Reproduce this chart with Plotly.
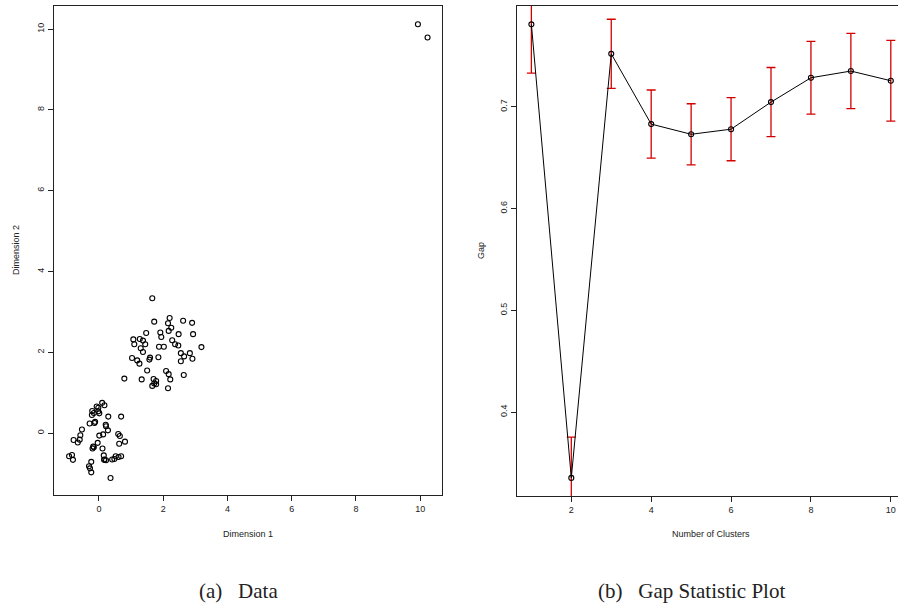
import plotly.graph_objects as go

# ---------------- data ----------------
# Panel (a): two clusters + two outliers
cluster1_x = [1.66, 1.72, 2.20, 2.15, 2.62, 2.90, 2.25, 2.17, 1.47, 1.91, 1.94, 2.48, 2.93,
              1.07, 1.27, 1.37, 1.10, 1.44, 2.28, 2.37, 2.47, 1.87, 2.02, 3.19, 1.30, 1.37,
              2.55, 2.83, 2.65, 2.91, 2.55, 1.03, 1.19, 1.26, 1.59, 1.57, 1.85, 1.50, 2.09,
              2.17, 2.64, 2.22, 0.79, 1.33, 1.70, 1.78, 1.72, 1.66, 1.78, 2.15]
cluster1_y = [3.34, 2.76, 2.85, 2.72, 2.78, 2.73, 2.61, 2.53, 2.48, 2.49, 2.38, 2.45, 2.45,
              2.32, 2.33, 2.29, 2.20, 2.20, 2.30, 2.20, 2.17, 2.14, 2.14, 2.13, 2.10, 2.01,
              1.98, 1.98, 1.90, 1.84, 1.78, 1.86, 1.80, 1.72, 1.87, 1.82, 1.88, 1.55, 1.54,
              1.46, 1.44, 1.33, 1.35, 1.33, 1.34, 1.29, 1.23, 1.17, 1.21, 1.11]

cluster2_x = [0.10, 0.17, -0.07, -0.21, -0.16, -0.02, 0.01, -0.22, 0.29, 0.69, -0.12, -0.29,
              0.21, 0.22, 0.28, -0.53, -0.58, -0.60, -0.66, -0.79, 0.01, 0.13, 0.60, 0.65,
              -0.04, 0.81, 0.63, -0.16, -0.20, 0.11, -0.93, -0.84, -0.81, 0.15, 0.16, 0.22,
              0.41, 0.48, 0.52, 0.61, 0.69, -0.24, -0.31, -0.28, -0.24, 0.36, -0.02, -0.18,
              0.17, -0.14]
cluster2_y = [0.75, 0.69, 0.66, 0.55, 0.50, 0.54, 0.49, 0.45, 0.41, 0.41, 0.28, 0.24,
              0.21, 0.17, 0.07, 0.09, -0.05, -0.16, -0.23, -0.17, -0.06, -0.03, -0.02, -0.07,
              -0.24, -0.21, -0.26, -0.35, -0.38, -0.38, -0.57, -0.54, -0.66, -0.55, -0.66, -0.67,
              -0.65, -0.64, -0.57, -0.59, -0.57, -0.71, -0.82, -0.87, -0.97, -1.11, 0.63, -0.33,
              -0.65, 0.25]

outlier_x = [9.93, 10.23]
outlier_y = [10.12, 9.79]

# Panel (b): gap statistic
clusters = [1, 2, 3, 4, 5, 6, 7, 8, 9, 10]
gap = [0.781, 0.3355, 0.752, 0.683, 0.673, 0.678, 0.7046, 0.7285, 0.7351, 0.7256]
gap_se = [0.048, 0.040, 0.034, 0.0335, 0.030, 0.031, 0.034, 0.0357, 0.037, 0.0397]

xticks_a = [0, 2, 4, 6, 8, 10]
yticks_a = [0, 2, 4, 6, 8, 10]
xticks_b = [2, 4, 6, 8, 10]
yticks_b = [0.4, 0.5, 0.6, 0.7]

# ---------------- figure ----------------
W, H = 898, 605
TICKFONT = dict(family="Liberation Sans, Arial, sans-serif", size=9, color="#222222")

pts_x = cluster1_x + cluster2_x + outlier_x
pts_y = cluster1_y + cluster2_y + outlier_y

fig = go.Figure()
fig.add_trace(go.Scatter(
    x=pts_x, y=pts_y, mode="markers", xaxis="x", yaxis="y",
    marker=dict(symbol="circle-open", size=5, color="black", line=dict(width=1.1)),
    showlegend=False, hoverinfo="x+y"))

fig.add_trace(go.Scatter(
    x=clusters, y=gap, mode="lines+markers", xaxis="x2", yaxis="y2",
    line=dict(color="black", width=1),
    marker=dict(symbol="circle-open", size=5, color="black", line=dict(width=1.1)),
    error_y=dict(type="data", array=gap_se, symmetric=True, color="#d40000",
                 thickness=1.3, width=4.5),
    showlegend=False))

def px_x(p):
    return p / W

def px_y(p):
    return 1 - p / H

axis_common = dict(showgrid=False, zeroline=False, ticks="outside", ticklen=5,
                   tickwidth=1, tickcolor="#222222", showline=True, linecolor="#222222",
                   linewidth=1, tickfont=TICKFONT, automargin=False)

fig.update_layout(
    width=W, height=H,
    margin=dict(l=0, r=0, t=0, b=0),
    paper_bgcolor="white", plot_bgcolor="white",
    xaxis=dict(domain=[px_x(54), px_x(442)], range=[-1.40, 10.68], tickvals=xticks_a,
               mirror=True, anchor="y", **axis_common),
    yaxis=dict(domain=[px_y(495), px_y(6)], range=[-1.53, 10.57], tickvals=yticks_a,
               mirror=True, anchor="x", tickangle=-90, **axis_common),
    xaxis2=dict(domain=[px_x(517), 1.0], range=[0.64, 10.18], tickvals=xticks_b,
                mirror=True, anchor="y2", **axis_common),
    yaxis2=dict(domain=[px_y(496), px_y(6)], range=[0.3177, 0.799], tickvals=yticks_b,
                mirror=False, anchor="x2", tickangle=-90, **axis_common),
)

TITLEFONT = dict(family="Liberation Sans, Arial, sans-serif", size=9, color="#222222")
CAPFONT = dict(family="Liberation Serif, Times New Roman, serif", size=21, color="#222222")

annos = [
    dict(text="Dimension 1", x=px_x(248), y=px_y(534), font=TITLEFONT),
    dict(text="Dimension 2", x=px_x(16), y=px_y(250), font=TITLEFONT, textangle=-90),
    dict(text="Number of Clusters", x=px_x(711), y=px_y(534), font=TITLEFONT),
    dict(text="Gap", x=px_x(481), y=px_y(251), font=TITLEFONT, textangle=-90),
    dict(text="(a)\u00a0\u00a0\u00a0Data", x=px_x(238), y=px_y(591), font=CAPFONT),
    dict(text="(b)\u00a0\u00a0\u00a0Gap Statistic Plot", x=px_x(691), y=px_y(591), font=CAPFONT),
]
for a in annos:
    a.update(xref="paper", yref="paper", showarrow=False, xanchor="center", yanchor="middle")
fig.update_layout(annotations=annos)

fig.write_html("out.html", config={"displayModeBar": False},
               post_script="document.body.style.margin='0';document.body.style.overflow='hidden';")
